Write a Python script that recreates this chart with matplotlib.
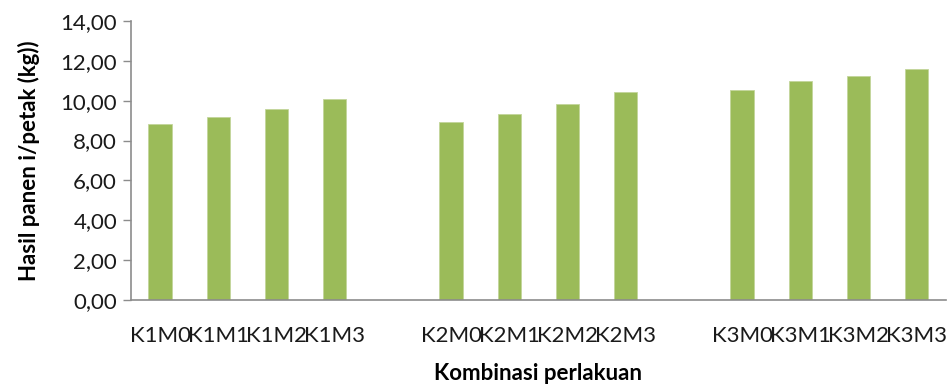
import matplotlib
matplotlib.use('Agg')
import matplotlib.pyplot as plt
import numpy as np

plt.rcParams['font.family'] = ['Lato', 'DejaVu Sans']

# treatment combinations, blank slot between each K group
categories = ['K1M0', 'K1M1', 'K1M2', 'K1M3', '',
              'K2M0', 'K2M1', 'K2M2', 'K2M3', '',
              'K3M0', 'K3M1', 'K3M2', 'K3M3']
hasil = [8.83, 9.17, 9.60, 10.07, np.nan,
         8.93, 9.32, 9.82, 10.42, np.nan,
         10.54, 11.00, 11.22, 11.59]
yticks = np.arange(0, 14.1, 2)

fig = plt.figure(figsize=(9.5, 3.88), dpi=100)
ax = fig.add_axes([0.1379, 0.2268, 0.8576, 0.7191])

x = np.arange(len(categories))
ax.bar(x, hasil, width=0.4, color='#9BBB59', edgecolor='#C3D69B', linewidth=0.6)

ax.set_xlim(-0.5, len(categories) - 0.5)
ax.set_ylim(0, 14)
ax.set_xticks(x)
ax.set_xticklabels(categories, fontsize=16, color='#1a1a1a')
ax.set_yticks(yticks)
ax.set_yticklabels([('%.2f' % v).replace('.', ',') for v in yticks],
                   fontsize=16, color='#1a1a1a')

for s in ['top', 'right']:
    ax.spines[s].set_visible(False)
for s in ['left', 'bottom']:
    ax.spines[s].set_color('#8C8C8C')
    ax.spines[s].set_linewidth(1.2)
ax.tick_params(axis='y', length=6, width=1, color='#8C8C8C', pad=4)
ax.tick_params(axis='x', length=0, pad=19)

ax.set_xlabel('Kombinasi perlakuan', fontsize=16, fontweight='bold', labelpad=12)
ax.set_ylabel('Hasil panen i/petak (kg))', fontsize=16, fontweight='bold', labelpad=15)

plt.savefig('out.png', dpi=100)
